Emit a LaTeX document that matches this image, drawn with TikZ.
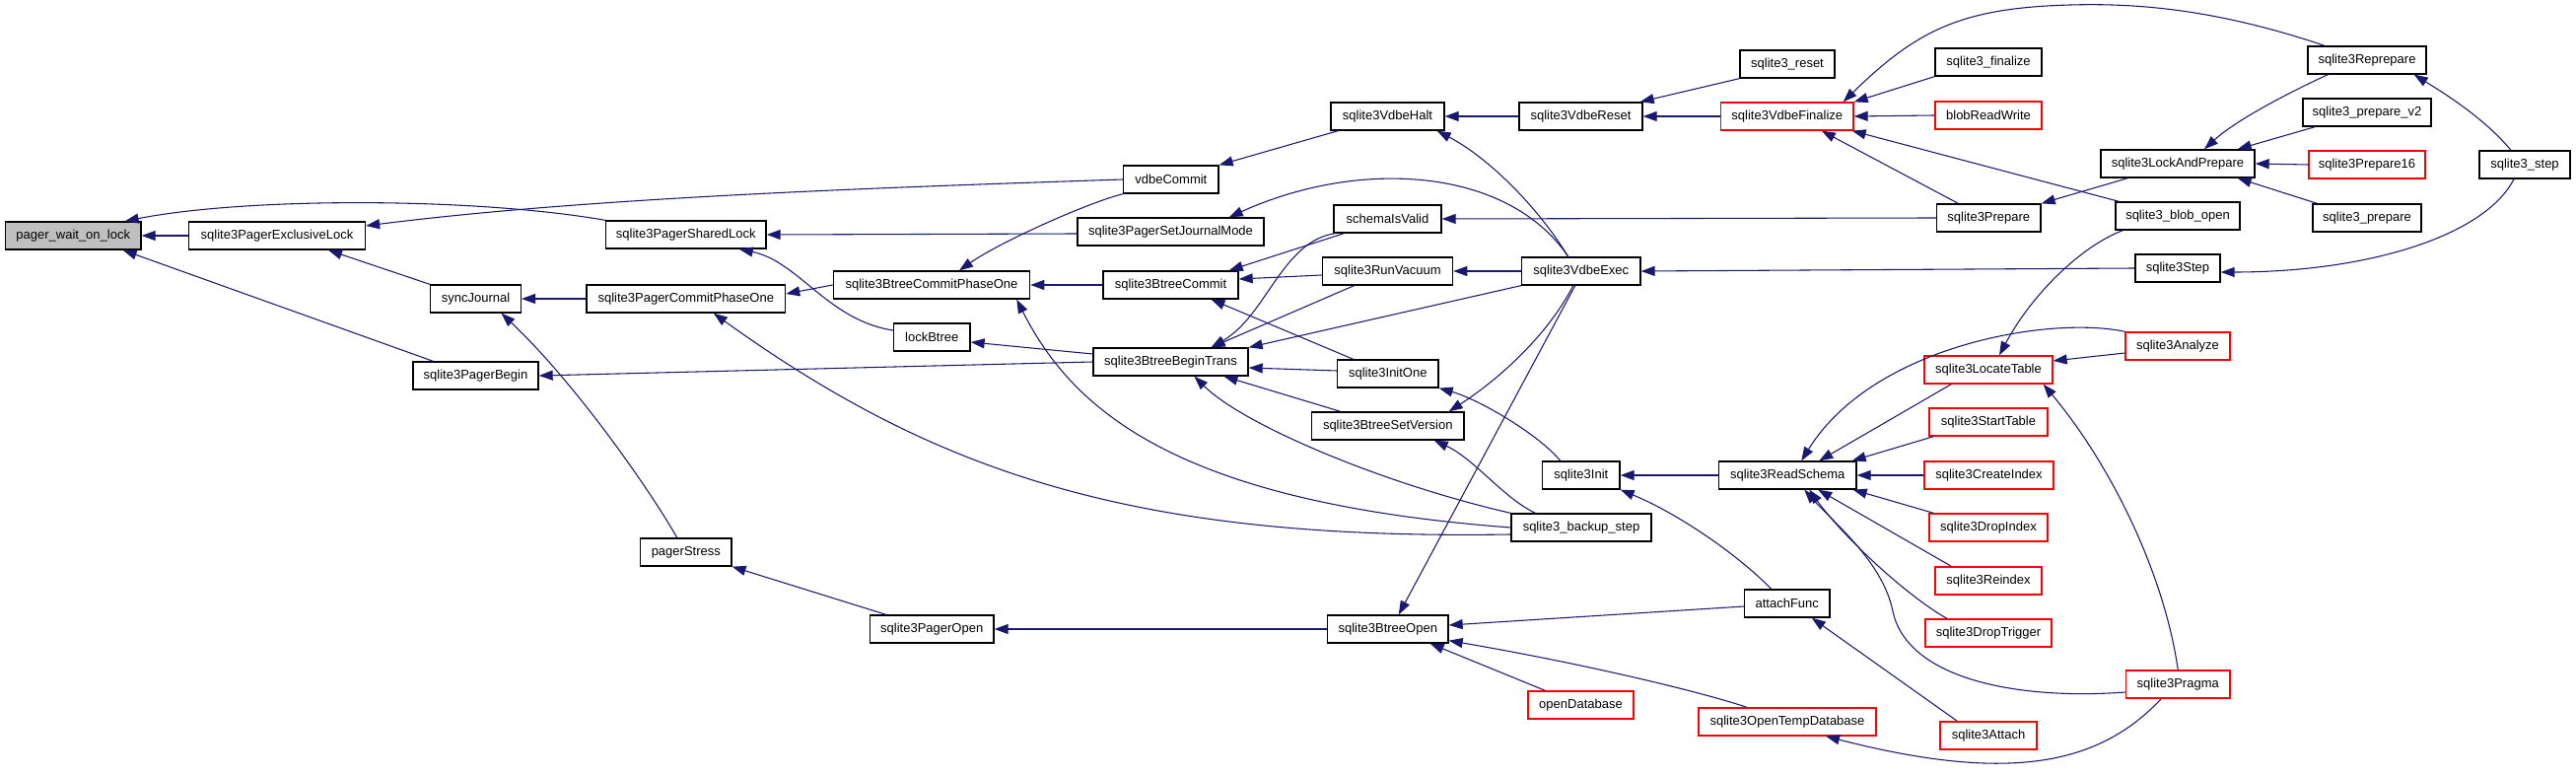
\documentclass[tikz,border=0pt]{standalone}
\usepackage{fontspec}
\setmainfont{Liberation Sans}
\usetikzlibrary{arrows.meta}
\definecolor{edgeblue}{HTML}{191970}
\definecolor{rootgray}{HTML}{BFBFBF}
\tikzset{
  nbox/.style={draw=black, line width=1pt, fill=white, inner sep=0pt, font=\fontsize{9.75}{11}\selectfont},
  redbox/.style={draw=red},
  rootbox/.style={fill=rootgray},
  edge/.style={draw=edgeblue, line width=0.8pt, -{Triangle[length=10.5pt,width=7.5pt]}}
}
\newcommand\gbox[7][]{%
  \pgfmathsetmacro\gcx{(#3+#4)/2}%
  \pgfmathsetmacro\gcy{(#5+#6)/2}%
  \pgfmathsetmacro\gw{(#4-#3)*0.75}%
  \pgfmathsetmacro\gh{(#6-#5)*0.75}%
  \node[nbox,#1,minimum width=\gw pt,minimum height=\gh pt] (#2) at (\gcx,\gcy) {#7};}
\begin{document}
\begin{tikzpicture}[x=0.75pt,y=-0.75pt]
\useasboundingbox (0,0) rectangle (2613,787);
\gbox[rootbox]{pwol}{5.5}{143}{225}{253}{pager\_wait\_on\_lock}
\gbox{excl}{191.5}{370.5}{225}{253}{sqlite3PagerExclusiveLock}
\gbox{sync}{436.6}{528.4}{289}{317}{syncJournal}
\gbox{pbegin}{419}{546}{367}{395}{sqlite3PagerBegin}
\gbox{shared}{614.6}{777}{224}{252}{sqlite3PagerSharedLock}
\gbox{pcp1}{595}{796.6}{289}{317}{sqlite3PagerCommitPhaseOne}
\gbox{vcommit}{1139.7}{1236}{168}{196}{vdbeCommit}
\gbox{sjm}{1093}{1282}{221}{249}{sqlite3PagerSetJournalMode}
\gbox{bcp1}{845.4}{1044.6}{275}{303}{sqlite3BtreeCommitPhaseOne}
\gbox{bcommit}{1119}{1256}{275}{303}{sqlite3BtreeCommit}
\gbox{lockb}{906.5}{984}{328}{356}{lockBtree}
\gbox{begint}{1109}{1266}{353}{381}{sqlite3BtreeBeginTrans}
\gbox{pstress}{649.7}{741.9}{546}{574}{pagerStress}
\gbox{popen}{882.5}{1008}{624}{652}{sqlite3PagerOpen}
\gbox{halt}{1350}{1465}{104}{132}{sqlite3VdbeHalt}
\gbox{reset}{1541}{1666}{104}{132}{sqlite3VdbeReset}
\gbox{sreset}{1765}{1861}{51}{79}{sqlite3\_reset}
\gbox[redbox]{final}{1745.6}{1880}{104}{132}{sqlite3VdbeFinalize}
\gbox{valid}{1353}{1462}{208}{236}{schemaIsValid}
\gbox{vacuum}{1341.5}{1473.6}{261}{289}{sqlite3RunVacuum}
\gbox{exec}{1543.5}{1664}{261}{289}{sqlite3VdbeExec}
\gbox{initone}{1356.6}{1459}{365}{393}{sqlite3InitOne}
\gbox{setver}{1330.5}{1485}{418}{446}{sqlite3BtreeSetVersion}
\gbox{init}{1564.6}{1643}{468}{496}{sqlite3Init}
\gbox{readschema}{1743.5}{1883}{468}{496}{sqlite3ReadSchema}
\gbox{backup}{1533}{1675}{521}{549}{sqlite3\_backup\_step}
\gbox{attach}{1769.5}{1856}{598}{626}{attachFunc}
\gbox{bopen}{1346.5}{1469}{624}{652}{sqlite3BtreeOpen}
\gbox[redbox]{opendb}{1550}{1657}{701}{729}{openDatabase}
\gbox[redbox]{otd}{1723}{1903}{718}{746}{sqlite3OpenTempDatabase}
\gbox{sfinal}{1963}{2071}{49}{77}{sqlite3\_finalize}
\gbox[redbox]{blobrw}{1963}{2071}{103}{131}{blobReadWrite}
\gbox{reprep}{2341}{2461}{47}{75}{sqlite3Reprepare}
\gbox{pv2}{2336}{2466}{100}{128}{sqlite3\_prepare\_v2}
\gbox{lap}{2131}{2287}{152}{180}{sqlite3LockAndPrepare}
\gbox[redbox]{p16}{2342}{2460}{153}{181}{sqlite3Prepare16}
\gbox{sstep}{2515}{2607}{153}{181}{sqlite3\_step}
\gbox{prep}{1964.6}{2070}{207}{235}{sqlite3Prepare}
\gbox{blobopen}{2146}{2272}{205}{233}{sqlite3\_blob\_open}
\gbox{sprep}{2346}{2456}{207}{235}{sqlite3\_prepare}
\gbox{step}{2166}{2252}{258}{286}{sqlite3Step}
\gbox[redbox]{analyze}{2156}{2262}{337}{365}{sqlite3Analyze}
\gbox[redbox]{locate}{1952}{2082}{361}{389}{sqlite3LocateTable}
\gbox[redbox]{starttab}{1957}{2077}{414}{442}{sqlite3StartTable}
\gbox[redbox]{createidx}{1952}{2083}{468}{496}{sqlite3CreateIndex}
\gbox[redbox]{dropidx}{1957}{2077}{521}{549}{sqlite3DropIndex}
\gbox[redbox]{reindex}{1963}{2071}{575}{603}{sqlite3Reindex}
\gbox[redbox]{droptrig}{1953}{2081}{628}{656}{sqlite3DropTrigger}
\gbox[redbox]{pragma}{2156.5}{2262}{680}{708}{sqlite3Pragma}
\gbox[redbox]{sattach}{1968}{2066}{732}{760}{sqlite3Attach}

% edges: caller -> callee
\draw[edge] (shared.north west) .. controls (480,200) and (250,200) .. ([shift={(-17,0)}]pwol.north east);
\draw[edge] (excl.west) -- (pwol.east);
\draw[edge] ([shift={(21,0)}]pbegin.north west) -- ([shift={(-19,0)}]pwol.south east);
\draw[edge] (vcommit.west) .. controls (900,190) and (600,200) .. ([shift={(0,-10)}]excl.east);
\draw[edge] (sync.north west) -- ([shift={(52,0)}]excl.south);
\draw[edge] (pcp1.west) -- (sync.east);
\draw[edge] ([shift={(-9,0)}]pstress.north) .. controls (655,490) and (580,385) .. ([shift={(26,0)}]sync.south);
\draw[edge] (begint.west) -- (pbegin.east);
\draw[edge] ([shift={(0,2)}]sjm.west) -- (shared.east);
\draw[edge] ([shift={(0,-7)}]lockb.west) .. controls (840,325) and (810,265) .. ([shift={(54,0)}]shared.south);
\draw[edge] (bcp1.west) -- ([shift={(0,-5)}]pcp1.east);
\draw[edge] ([shift={(0,7)}]backup.west) .. controls (1150,548) and (950,480) .. ([shift={(28,0)}]pcp1.south);
\draw[edge] ([shift={(0,-8)}]begint.west) -- ([shift={(0,5)}]lockb.east);
\draw[edge] (bopen.west) -- (popen.east);
\draw[edge] ([shift={(17,0)}]popen.north west) -- (pstress.south east);
\draw[edge] ([shift={(8,0)}]halt.south west) -- (vcommit.north east);
\draw[edge] (vcommit.south west) .. controls (1105,205) and (1015,245) .. ([shift={(28,0)}]bcp1.north);
\draw[edge] (bcommit.west) -- (bcp1.east);
\draw[edge] (backup.west) .. controls (1200,510) and (1090,420) .. ([shift={(-14,0)}]bcp1.south east);
\draw[edge] ([shift={(11,0)}]valid.south west) -- ([shift={(-10,0)}]bcommit.north east);
\draw[edge] ([shift={(0,4)}]vacuum.west) -- ([shift={(0,-6)}]bcommit.east);
\draw[edge] ([shift={(-35,0)}]initone.north) -- ([shift={(41,0)}]bcommit.south);
\draw[edge] ([shift={(-13,0)}]exec.north) .. controls (1530,170) and (1380,160) .. ([shift={(-36,0)}]sjm.north east);
\draw[edge] ([shift={(2,0)}]valid.south west) .. controls (1300,245) and (1285,320) .. ([shift={(41,0)}]begint.north);
\draw[edge] ([shift={(-34,0)}]vacuum.south) -- ([shift={(41,0)}]begint.north);
\draw[edge] (exec.south west) -- (begint.north east);
\draw[edge] ([shift={(0,-3)}]initone.west) -- ([shift={(0,6)}]begint.east);
\draw[edge] ([shift={(-48,0)}]setver.north) -- ([shift={(54,0)}]begint.south);
\draw[edge] (backup.north west) .. controls (1400,490) and (1260,430) .. ([shift={(24,0)}]begint.south);
\draw[edge] ([shift={(-13,0)}]exec.north) .. controls (1560,210) and (1510,160) .. ([shift={(-8,0)}]halt.south east);
\draw[edge] (exec.west) -- (vacuum.east);
\draw[edge] ([shift={(-8,0)}]exec.south) .. controls (1570,340) and (1520,385) .. ([shift={(-16,0)}]setver.north east);
\draw[edge] ([shift={(-6,0)}]exec.south) -- ([shift={(11,0)}]bopen.north);
\draw[edge] (reset.west) -- (halt.east);
\draw[edge] (sreset.south west) -- ([shift={(-3,0)}]reset.north east);
\draw[edge] (final.west) -- (reset.east);
\draw[edge] ([shift={(-43,0)}]reprep.north) .. controls (2250,10) and (2170,3) .. (2100,5) .. controls (1990,8) and (1945,30) .. ([shift={(-11,0)}]final.north east);
\draw[edge] (sfinal.south west) -- (final.north east);
\draw[edge] (blobrw.west) -- (final.east);
\draw[edge] ([shift={(4,0)}]blobopen.north west) -- ([shift={(-2,0)}]final.south east);
\draw[edge] ([shift={(-31,0)}]prep.north) -- ([shift={(35,0)}]final.south);
\draw[edge] (prep.west) -- (valid.east);
\draw[edge] (step.west) -- (exec.east);
\draw[edge] ([shift={(28,0)}]lap.south west) -- (prep.north east);
\draw[edge] ([shift={(21,0)}]reprep.south west) .. controls (2330,90) and (2270,120) .. ([shift={(27,0)}]lap.north);
\draw[edge] ([shift={(13,0)}]pv2.south west) -- ([shift={(-18,0)}]lap.north east);
\draw[edge] (p16.west) -- (lap.east);
\draw[edge] ([shift={(5,0)}]sprep.north west) -- ([shift={(-18,0)}]lap.south east);
\draw[edge] ([shift={(-14,0)}]sstep.north) .. controls (2520,120) and (2480,95) .. ([shift={(-13,0)}]reprep.south east);
\draw[edge] ([shift={(-11,0)}]sstep.south) .. controls (2520,240) and (2400,276) .. ([shift={(0,4)}]step.east);
\draw[edge] ([shift={(8,0)}]blobopen.south west) .. controls (2110,250) and (2060,300) .. ([shift={(11,0)}]locate.north);
\draw[edge] ([shift={(0,7)}]analyze.west) -- ([shift={(0,-9)}]locate.east);
\draw[edge] (analyze.north west) .. controls (2080,320) and (1900,350) .. ([shift={(14,0)}]readschema.north);
\draw[edge] ([shift={(28,0)}]locate.south west) -- ([shift={(32,0)}]readschema.north);
\draw[edge] ([shift={(5,0)}]starttab.south west) -- ([shift={(-5,0)}]readschema.north east);
\draw[edge] (createidx.west) -- (readschema.east);
\draw[edge] ([shift={(5,0)}]dropidx.north west) -- ([shift={(-4,0)}]readschema.south east);
\draw[edge] ([shift={(17,0)}]reindex.north west) -- ([shift={(31,0)}]readschema.south);
\draw[edge] ([shift={(-42,0)}]droptrig.north) .. controls (1935,605) and (1870,545) .. ([shift={(22,0)}]readschema.south);
\draw[edge] ([shift={(0,8)}]pragma.west) .. controls (2050,710) and (1935,690) .. (1920,620) .. controls (1910,570) and (1860,530) .. ([shift={(17,0)}]readschema.south);
\draw[edge] (pragma.north) .. controls (2195,580) and (2140,470) .. ([shift={(-10,0)}]locate.south east);
\draw[edge] ([shift={(18,0)}]sattach.north west) -- ([shift={(25,0)}]attach.south);
\draw[edge] ([shift={(-17,0)}]pragma.south) .. controls (2130,775) and (2040,795) .. ([shift={(39,0)}]otd.south);
\draw[edge] (readschema.west) -- (init.east);
\draw[edge] ([shift={(-16,0)}]attach.north) .. controls (1760,560) and (1700,520) .. (init.south east);
\draw[edge] ([shift={(0,3)}]attach.west) -- ([shift={(0,-4)}]bopen.east);
\draw[edge] ([shift={(-41,0)}]otd.north) .. controls (1720,700) and (1600,672) .. ([shift={(0,-3)}]bopen.south east);
\draw[edge] ([shift={(18,0)}]opendb.north west) -- ([shift={(-19,0)}]bopen.south east);
\draw[edge] ([shift={(-21,0)}]init.north) .. controls (1560,440) and (1500,405) .. (initone.south east);
\draw[edge] ([shift={(25,0)}]backup.north west) .. controls (1525,505) and (1495,465) .. ([shift={(47,0)}]setver.south);
\end{tikzpicture}
\end{document}
